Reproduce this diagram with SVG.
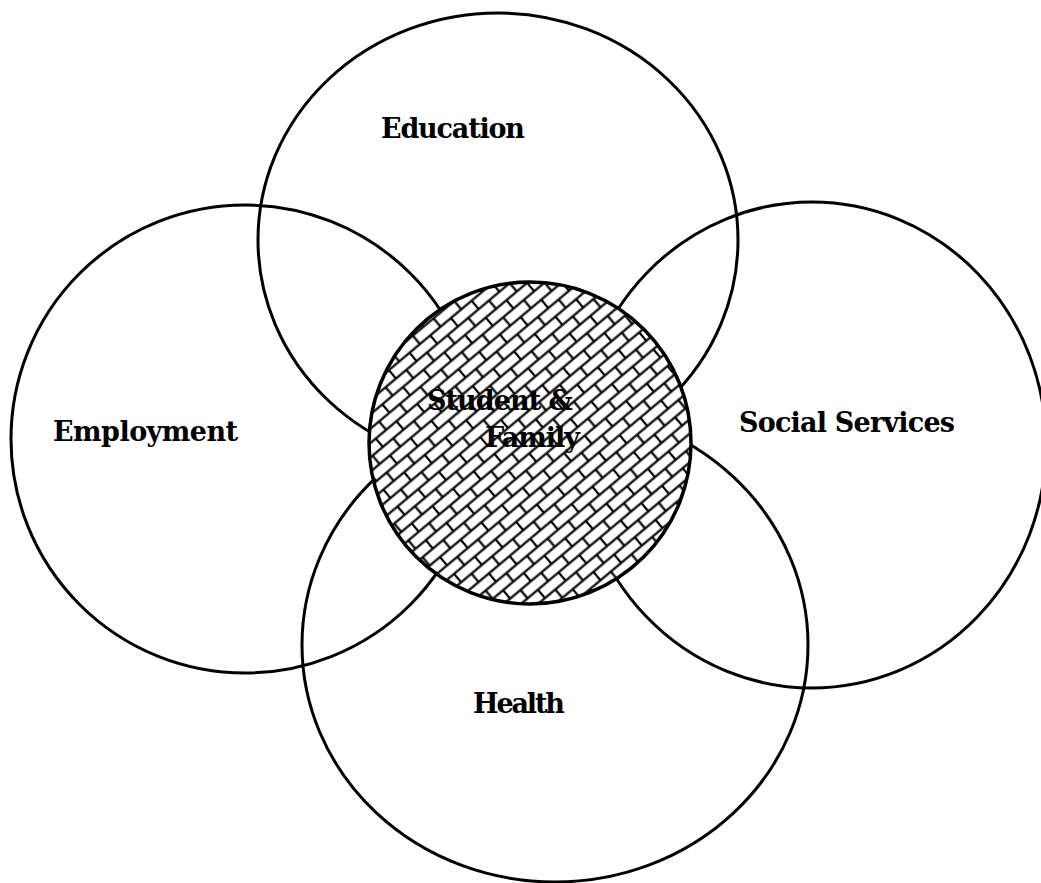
<svg xmlns="http://www.w3.org/2000/svg" width="1041" height="883" viewBox="0 0 1041 883">
<style>
.ring{fill:none;stroke:#000;stroke-width:3}
.lbl{font-family:"DejaVu Serif","Liberation Serif",serif;font-weight:bold;font-size:27px;fill:#000}
</style>
<defs>
<pattern id="brick" patternUnits="userSpaceOnUse" width="27" height="22" patternTransform="rotate(-40)">
<g stroke="#000" stroke-width="2.2" fill="none">
<line x1="0" y1="5.5" x2="27" y2="5.5"/>
<line x1="0" y1="16.5" x2="27" y2="16.5"/>
<line x1="6" y1="5.5" x2="6" y2="16.5"/>
<line x1="19.5" y1="16.5" x2="19.5" y2="22"/>
<line x1="19.5" y1="0" x2="19.5" y2="5.5"/>
</g>
</pattern>
</defs>
<rect width="1041" height="883" fill="#fff"/>
<g id="connectors"></g>
<g id="education">
<ellipse class="ring" cx="498" cy="240" rx="240" ry="227"/>
<text class="lbl" x="381" y="138" textLength="144">Education</text>
</g>
<g id="employment">
<ellipse class="ring" cx="245" cy="439" rx="234" ry="234"/>
<text class="lbl" x="53" y="441" textLength="185">Employment</text>
</g>
<g id="social-services">
<ellipse class="ring" cx="812" cy="445" rx="234" ry="243"/>
<text class="lbl" x="739" y="432" textLength="216">Social Services</text>
</g>
<g id="health">
<ellipse class="ring" cx="555" cy="645" rx="253" ry="237"/>
<text class="lbl" x="473" y="713" textLength="92">Health</text>
</g>
<g id="student-family">
<circle cx="530" cy="443" r="161" fill="#fff"/>
<circle cx="530" cy="443" r="161" fill="url(#brick)" stroke="#000" stroke-width="3.5"/>
<text class="lbl" x="427" y="410" textLength="146">Student &amp;</text>
<text class="lbl" x="485" y="447" textLength="95">Family</text>
</g>
</svg>
